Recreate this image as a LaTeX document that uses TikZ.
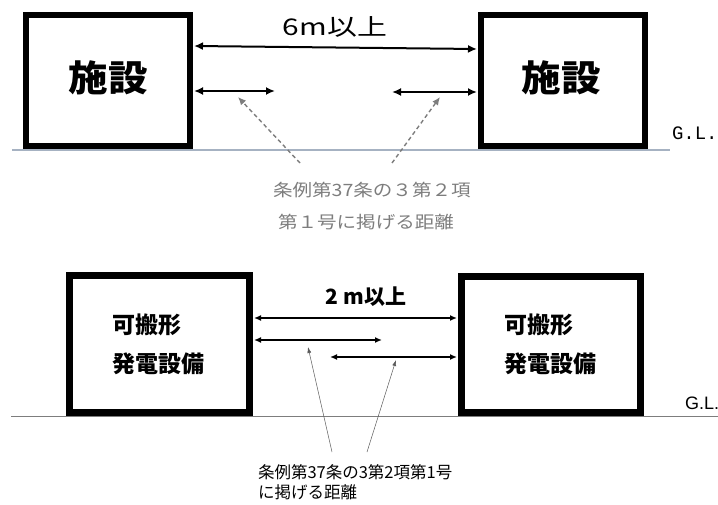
\documentclass[tikz,border=0pt]{standalone}
\usepackage{fontspec}
\usetikzlibrary{arrows.meta}
\newfontfamily\jp{Noto Sans CJK JP}
\newfontfamily\glmono{Liberation Mono}
\newfontfamily\glsans{Liberation Sans}
\definecolor{gltop}{RGB}{166,178,194}
\definecolor{txtgray}{RGB}{125,125,125}
\definecolor{leader}{RGB}{90,90,90}
\tikzset{
  boxA/.style={draw=black, line width=6pt, fill=white, minimum width=164pt, minimum height=131pt, inner sep=0pt},
  boxB/.style={draw=black, line width=7pt, fill=white, inner sep=0pt},
  lbl/.style={inner sep=0pt, outer sep=0pt},
  dimA/.style={line width=2pt, {Latex[length=9pt,width=8pt]}-{Latex[length=9pt,width=8pt]}},
  dimB/.style={line width=1.8pt, {Latex[length=7pt,width=6pt]}-{Latex[length=7pt,width=6pt]}},
  dashlead/.style={txtgray, line width=1.4pt, dash pattern=on 4pt off 3pt, -{Latex[length=8pt,width=7pt]}},
  thinlead/.style={leader, line width=0.5pt, -{Latex[length=6pt,width=4pt]}},
}
\begin{document}
\begin{tikzpicture}[x=1pt,y=-1pt]
\useasboundingbox (0,0) rectangle (718,505);
% ---------- top diagram ----------
\draw[gltop, line width=2pt] (12,150) -- (670,150);
\node[boxA] (tl) at (108,80.5) {};
\node[boxA] (tr) at (563,80.5) {};
\node[lbl] (tlt) at (108,78) {\scalebox{1.1}[1]{\jp\bfseries\fontsize{36pt}{40pt}\selectfont 施設}};
\node[lbl] (trt) at (561,78) {\scalebox{1.1}[1]{\jp\bfseries\fontsize{36pt}{40pt}\selectfont 施設}};
\node[lbl] (six) at (335,27) {\scalebox{1.3}[1]{\jp\fontsize{23pt}{26pt}\selectfont 6m以上}};
\coordinate (a1s) at (194,46);
\coordinate (a1e) at (477,49);
\coordinate (a2s) at (194,91);
\coordinate (a2e) at (275,91);
\coordinate (a3s) at (392,92);
\coordinate (a3e) at (477,92);
\draw[dimA] (a1s) -- (a1e);
\draw[dimA] (a2s) -- (a2e);
\draw[dimA] (a3s) -- (a3e);
\coordinate (d1s) at (300,163);
\coordinate (d1e) at (238,97);
\coordinate (d2s) at (392,163);
\coordinate (d2e) at (440,97);
\draw[dashlead] (d1s) -- (d1e);
\draw[dashlead] (d2s) -- (d2e);
\node[lbl, anchor=west, txtgray] (n1a) at (273,190) {\scalebox{1.15}[1]{\jp\fontsize{17pt}{20pt}\selectfont 条例第37条の３第２項}};
\node[lbl, anchor=west, txtgray] (n1b) at (278,222) {\scalebox{1.15}[1]{\jp\fontsize{17pt}{20pt}\selectfont 第１号に掲げる距離}};
\node[lbl, anchor=west] (gl1) at (672,133) {\glmono\fontsize{19pt}{22pt}\selectfont G.L.};
% ---------- bottom diagram ----------
\draw[txtgray, line width=1pt] (11,416) -- (718,416);
\node[boxB, minimum width=180pt, minimum height=137pt] (bl) at (159.5,344) {};
\node[boxB, minimum width=179pt, minimum height=136pt] (br) at (551,344.5) {};
\node[lbl, anchor=west] (blt1) at (112,325) {\jp\bfseries\fontsize{23pt}{26pt}\selectfont 可搬形};
\node[lbl, anchor=west] (blt2) at (112,364) {\jp\bfseries\fontsize{23pt}{26pt}\selectfont 発電設備};
\node[lbl, anchor=west] (brt1) at (504,325) {\jp\bfseries\fontsize{23pt}{26pt}\selectfont 可搬形};
\node[lbl, anchor=west] (brt2) at (504,364) {\jp\bfseries\fontsize{23pt}{26pt}\selectfont 発電設備};
\node[lbl] (two) at (366,297) {\jp\bfseries\fontsize{21pt}{24pt}\selectfont 2 m以上};
\coordinate (b1s) at (254,318);
\coordinate (b1e) at (457,318);
\coordinate (b2s) at (254,340);
\coordinate (b2e) at (382,340);
\coordinate (b3s) at (330,357);
\coordinate (b3e) at (457,357);
\draw[dimB] (b1s) -- (b1e);
\draw[dimB] (b2s) -- (b2e);
\draw[dimB] (b3s) -- (b3e);
\coordinate (l1s) at (332,452);
\coordinate (l1e) at (308,347);
\coordinate (l2s) at (367,452);
\coordinate (l2e) at (396,360);
\draw[thinlead] (l1s) -- (l1e);
\draw[thinlead] (l2s) -- (l2e);
\node[lbl, anchor=west] (n2a) at (258,472) {\jp\fontsize{16.5pt}{20pt}\selectfont 条例第37条の3第2項第1号};
\node[lbl, anchor=west] (n2b) at (258,492) {\jp\fontsize{16.5pt}{20pt}\selectfont に掲げる距離};
\node[lbl, anchor=west] (gl2) at (685,403) {\glsans\fontsize{18pt}{21pt}\selectfont G.L.};
\end{tikzpicture}
\end{document}
